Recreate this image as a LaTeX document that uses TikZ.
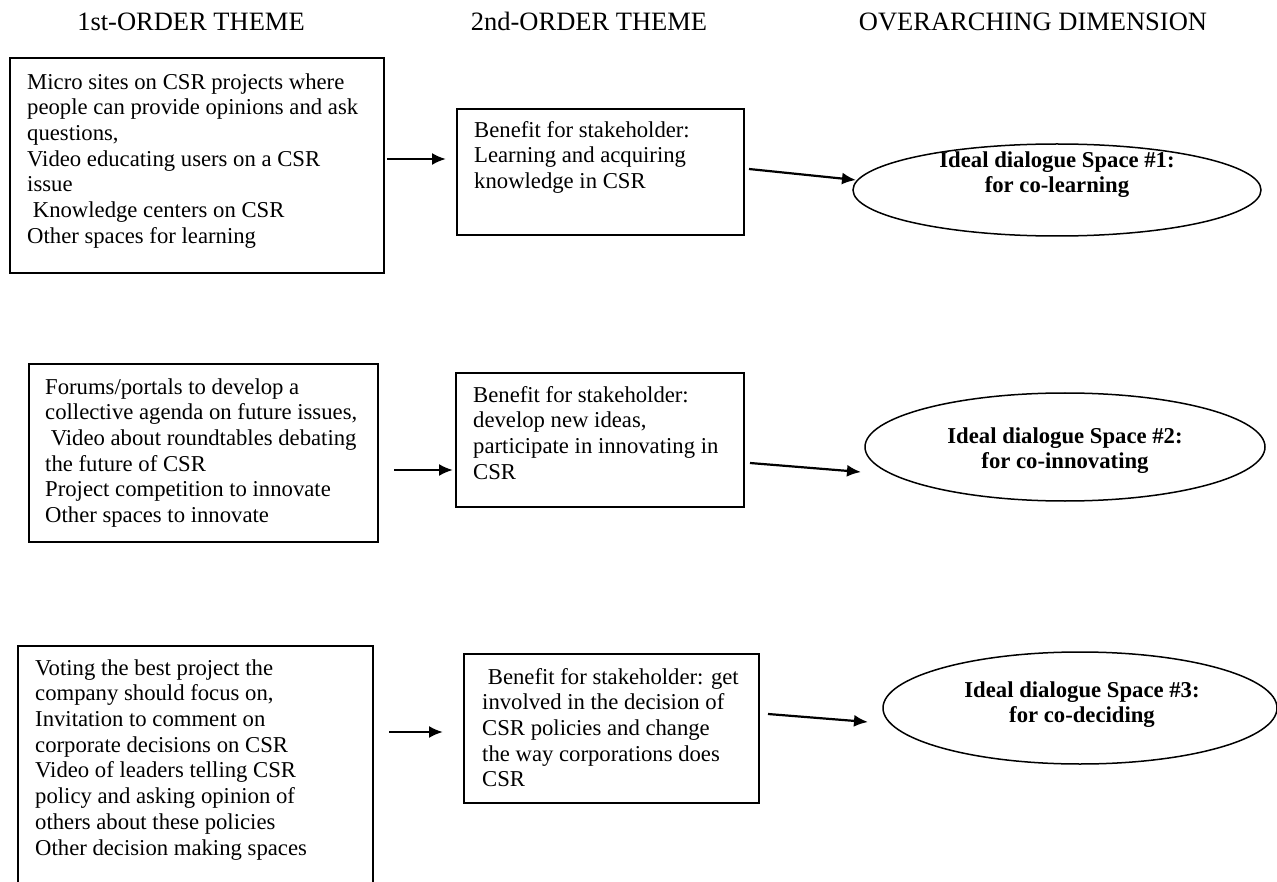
\documentclass[tikz,border=0pt]{standalone}
\usepackage{fontspec}
\setmainfont{Liberation Serif}
\usetikzlibrary{arrows.meta,shapes.geometric}
\tikzset{
  boxshape/.style={draw, line width=1.6pt, inner sep=0pt, anchor=north west},
  bodytext/.style={anchor=north west, inner sep=0pt, align=left,
    font=\fontsize{22.7}{25.7}\selectfont},
  headtext/.style={inner sep=0pt, anchor=base, font=\fontsize{26.5}{30}\selectfont},
  ovalshape/.style={draw, ellipse, line width=1.5pt, inner sep=0pt},
  ovaltext/.style={inner sep=0pt, align=center,
    font=\fontsize{22.7}{25}\selectfont\bfseries},
  flow/.style={line width=2.2pt, -{Latex[length=14pt,width=12pt]}},
}
\begin{document}
\begin{tikzpicture}[x=1pt,y=-1pt]
\useasboundingbox (0,0) rectangle (1277,882);
\clip (0,0) rectangle (1277,882);
\fill[white] (0,0) rectangle (1277,882);

% headers
\node[headtext] (h1) at (191,31) {1st-ORDER THEME};
\node[headtext] (h2) at (589,31) {2nd-ORDER THEME};
\node[headtext] (h3) at (1033,31) {OVERARCHING DIMENSION};

% boxes
\node[boxshape, minimum width=374, minimum height=215] (A1) at (9,57) {};
\node[boxshape, minimum width=287, minimum height=126] (B1) at (456,108) {};
\node[boxshape, minimum width=349, minimum height=178] (A2) at (28,363) {};
\node[boxshape, minimum width=288, minimum height=134] (B2) at (455,372) {};
\node[boxshape, minimum width=355, minimum height=260] (A3) at (17,645) {};
\node[boxshape, minimum width=295, minimum height=149] (B3) at (463,653) {};

% box texts
\node[bodytext] (A1t) at (27,71) {\strut Micro sites on CSR projects where\\
people can provide opinions and ask\\
questions,\\
Video educating users on a CSR\\
issue\\
\hspace*{5.7pt}Knowledge centers on CSR\\
Other spaces for learning};
\node[bodytext] (B1t) at (474,119) {\strut Benefit for stakeholder:\\
Learning and acquiring\\
knowledge in CSR};
\node[bodytext] (A2t) at (45,376) {\strut Forums/portals to develop a\\
collective agenda on future issues,\\
\hspace*{5.7pt}Video about roundtables debating\\
the future of CSR\\
Project competition to innovate\\
Other spaces to innovate};
\node[bodytext] (B2t) at (473,384) {\strut Benefit for stakeholder:\\
develop new ideas,\\
participate in innovating in\\
CSR};
\node[bodytext] (A3t) at (35,657) {\strut Voting the best project the\\
company should focus on,\\
Invitation to comment on\\
corporate decisions on CSR\\
Video of leaders telling CSR\\
policy and asking opinion of\\
others about these policies\\
Other decision making spaces};
\node[bodytext] (B3t) at (482,666) {\strut\hspace*{5.7pt}Benefit for stakeholder: get\\
involved in the decision of\\
CSR policies and change\\
the way corporations does\\
CSR};

% ellipses
\node[ovalshape, minimum width=408, minimum height=92] (E1) at (1057,190) {};
\node[ovalshape, minimum width=400, minimum height=108] (E2) at (1065,447) {};
\node[ovalshape, minimum width=394, minimum height=112] (E3) at (1080,708) {};
\node[ovaltext] (E1t) at (1057,175) {Ideal dialogue Space \#1:\\for co-learning};
\node[ovaltext] (E2t) at (1065,451) {Ideal dialogue Space \#2:\\for co-innovating};
\node[ovaltext] (E3t) at (1082,705) {Ideal dialogue Space \#3:\\for co-deciding};

% connector end points
\coordinate (a1s) at (387,159); \coordinate (a1e) at (446,159);
\coordinate (b1s) at (749,169); \coordinate (b1e) at (856,180);
\coordinate (a2s) at (394,470); \coordinate (a2e) at (453,470);
\coordinate (b2s) at (750,463); \coordinate (b2e) at (861,472);
\coordinate (a3s) at (389,732); \coordinate (a3e) at (443,732);
\coordinate (b3s) at (768,714); \coordinate (b3e) at (868,722);

\draw[flow] (a1s) -- (a1e);
\draw[flow] (b1s) -- (b1e);
\draw[flow] (a2s) -- (a2e);
\draw[flow] (b2s) -- (b2e);
\draw[flow] (a3s) -- (a3e);
\draw[flow] (b3s) -- (b3e);
\end{tikzpicture}
\end{document}
